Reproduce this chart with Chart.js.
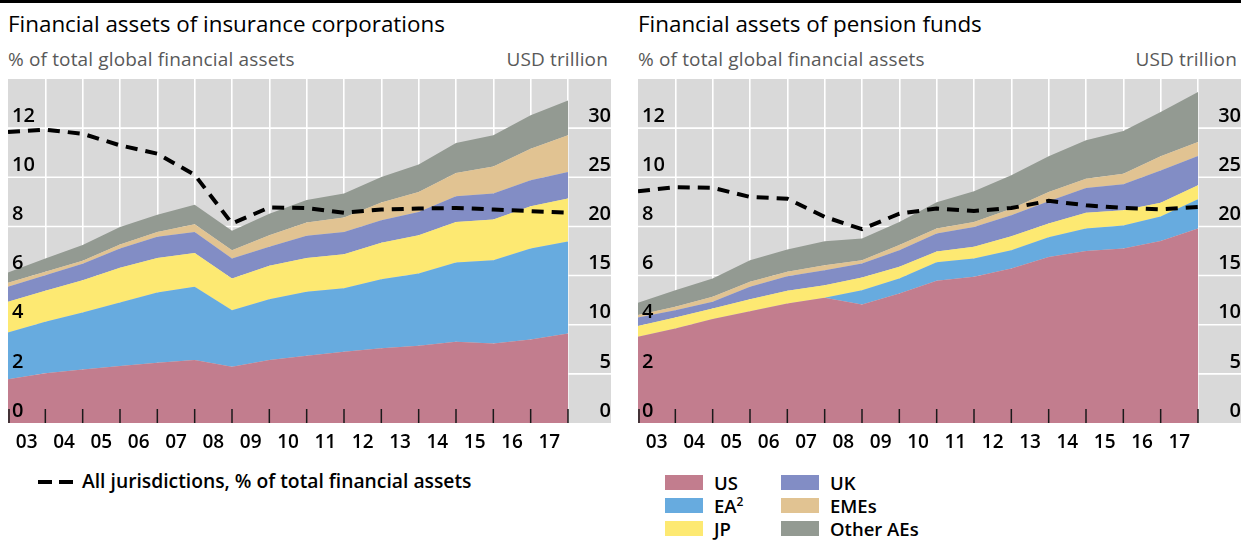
<!DOCTYPE html>
<html><head><meta charset="utf-8">
<script src="https://cdn.jsdelivr.net/npm/chart.js@4.4.1/dist/chart.umd.min.js"></script>
<style>
html,body{margin:0;padding:0;}
body{width:1241px;height:540px;background:#fff;position:relative;overflow:hidden;font-family:"Open Sans",sans-serif;}
.rule{position:absolute;top:0;height:3px;background:#000;left:0;width:1241px;}
.title{position:absolute;font-size:22.4px;color:#000;white-space:nowrap;line-height:1;}
.sub{position:absolute;font-size:19px;color:#595959;white-space:nowrap;line-height:1;letter-spacing:0.15px;}
canvas{position:absolute;top:79px;}
.leg{position:absolute;font-size:18.5px;font-weight:600;color:#000;white-space:nowrap;line-height:1;}
.sw{position:absolute;width:38px;height:15px;}
.dash{position:absolute;height:4px;width:14px;background:#000;}
</style></head>
<body>
<div class="rule"></div>
<div class="title" style="left:8px;top:13px;">Financial assets of insurance corporations</div>
<div class="sub" style="left:8px;top:50px;">% of total global financial assets</div>
<div class="sub" style="right:633px;top:50px;">USD trillion</div>
<div class="title" style="left:638px;top:13px;">Financial assets of pension funds</div>
<div class="sub" style="left:638px;top:50px;">% of total global financial assets</div>
<div class="sub" style="right:4px;top:50px;">USD trillion</div>
<canvas id="c1" width="603" height="384" style="left:8px;"></canvas>
<canvas id="c2" width="603" height="384" style="left:638px;"></canvas>

<div class="dash" style="left:38px;top:480px;"></div>
<div class="dash" style="left:59px;top:480px;"></div>
<div class="leg" style="left:82px;top:471px;font-size:19.3px;">All jurisdictions, % of total financial assets</div>

<div class="sw" style="left:665px;top:475px;background:#C27D8E;"></div>
<div class="leg" style="left:714px;top:474px;">US</div>
<div class="sw" style="left:665px;top:498px;background:#67ABDF;"></div>
<div class="leg" style="left:714px;top:497px;">EA<sup style="font-size:12px;vertical-align:7px;line-height:0;">2</sup></div>
<div class="sw" style="left:665px;top:521px;background:#FDE972;"></div>
<div class="leg" style="left:714px;top:520px;">JP</div>
<div class="sw" style="left:781px;top:475px;background:#828DC5;"></div>
<div class="leg" style="left:830px;top:474px;">UK</div>
<div class="sw" style="left:781px;top:498px;background:#E1C392;"></div>
<div class="leg" style="left:830px;top:497px;">EMEs</div>
<div class="sw" style="left:781px;top:521px;background:#939A92;"></div>
<div class="leg" style="left:830px;top:520px;">Other AEs</div>

<script>
// Category labels (years) and point positions (end-of-year observations 2002..2017)
const years = ['03','04','05','06','07','08','09','10','11','12','13','14','15','16','17'];
const pointIndex = [0,1,2,3,4,5,6,7,8,9,10,11,12,13,14,15];

// Insurance corporations, USD trillion (stacked components)
const insUS    = [4.44,5.05,5.45,5.80,6.13,6.40,5.72,6.40,6.85,7.25,7.60,7.86,8.27,8.10,8.50,9.10];
const insEA    = [4.76,5.25,5.80,6.46,7.15,7.46,5.76,6.20,6.50,6.45,7.03,7.34,8.06,8.46,9.25,9.36];
const insJP    = [3.13,3.15,3.28,3.53,3.52,3.44,3.22,3.40,3.45,3.47,3.70,3.90,4.13,4.14,4.30,4.37];
const insUK    = [1.53,1.59,1.67,1.96,2.14,2.14,2.03,1.92,2.25,2.27,2.30,2.38,2.61,2.64,2.65,2.71];
const insEME   = [0.40,0.34,0.30,0.41,0.50,0.78,0.85,1.18,1.35,1.46,1.80,2.02,2.37,2.76,3.20,3.73];
const insOther = [1.04,1.35,1.60,1.79,1.76,1.98,1.97,2.20,2.30,2.44,2.60,2.80,3.06,3.17,3.40,3.53];
// Insurance, all jurisdictions, % of total financial assets
const insShare = [11.84,11.94,11.77,11.30,10.96,10.10,8.12,8.77,8.75,8.56,8.69,8.73,8.75,8.69,8.62,8.56];

// Pension funds, USD trillion (stacked components)
const penUS    = [8.77,9.62,10.57,11.38,12.16,12.74,12.06,13.18,14.48,14.87,15.72,16.90,17.51,17.75,18.53,19.78];
const penEA    = [0,0,0,0,0,0,1.44,1.52,1.87,1.86,1.86,2.00,2.29,2.35,2.47,2.98];
const penJP    = [1.09,1.12,1.08,1.22,1.29,1.28,1.30,1.19,1.11,1.19,1.42,1.40,1.58,1.55,1.40,1.43];
const penUK    = [0.88,0.74,0.68,1.26,1.49,1.53,1.43,1.69,1.81,2.03,2.14,2.26,2.54,2.64,3.30,2.98];
const penEME   = [0.24,0.34,0.51,0.50,0.44,0.51,0.33,0.52,0.53,0.51,0.66,0.94,0.94,1.08,1.43,1.43];
const penOther = [1.25,1.68,1.86,2.20,2.27,2.44,2.21,2.36,2.65,3.12,3.40,3.63,3.90,4.33,4.51,5.07];
// Pension, all jurisdictions, % of total financial assets
const penShare = [9.43,9.60,9.57,9.20,9.13,8.39,7.89,8.52,8.73,8.63,8.75,9.04,8.86,8.75,8.70,8.79];

// Axis ticks
const leftTicks  = [0,2,4,6,8,10,12];
const rightTicks = [0,5,10,15,20,25,30];

const seriesNames = ['US','EA','JP','UK','EMEs','Other AEs'];
const seriesColors = ['#C27D8E','#67ABDF','#FDE972','#828DC5','#E1C392','#939A92'];

const panelPlugin = {
  id: 'panel',
  beforeDraw(chart) {
    const {ctx, chartArea: a} = chart;
    const yl = chart.scales.yl;
    ctx.save();
    ctx.fillStyle = '#D9D9D9';
    ctx.fillRect(a.left, a.top, chart.width - a.left, a.bottom - a.top);
    ctx.strokeStyle = '#FFFFFF';
    ctx.lineWidth = 1.6;
    leftTicks.forEach(v => {
      if (v <= yl.min || v >= yl.max) return;
      const y = yl.getPixelForValue(v);
      ctx.beginPath();
      ctx.moveTo(a.left, y);
      ctx.lineTo(chart.width, y);
      ctx.stroke();
    });
    ctx.restore();
  },
  afterDatasetsDraw(chart) {
    const {ctx, chartArea: a} = chart;
    const xs = chart.scales.x;
    ctx.save();
    ctx.strokeStyle = '#1a1a1a';
    ctx.lineWidth = 1.5;
    pointIndex.forEach(i => {
      let px = xs.getPixelForValue(i);
      px = Math.max(px, a.left + 1);
      ctx.beginPath();
      ctx.moveTo(px, a.bottom);
      ctx.lineTo(px, a.bottom - 14);
      ctx.stroke();
    });
    ctx.restore();
  }
};

function noPad(s) { s.paddingTop = 0; s.paddingBottom = 0; s.paddingLeft = 0; s.paddingRight = 0; }

function makeChart(id, comps, share) {
  const datasets = comps.map((arr, k) => ({
    type: 'line',
    label: seriesNames[k],
    data: arr.map((v, i) => ({x: pointIndex[i], y: v})),
    xAxisID: 'x', yAxisID: 'yr',
    backgroundColor: seriesColors[k],
    borderWidth: 0, pointRadius: 0, tension: 0,
    fill: k === 0 ? 'origin' : '-1',
    order: 1
  }));
  datasets.push({
    type: 'line',
    label: 'All jurisdictions, % of total financial assets',
    data: share.map((v, i) => ({x: pointIndex[i], y: v})),
    xAxisID: 'x', yAxisID: 'yl',
    borderColor: '#000', borderWidth: 4, borderDash: [12, 8],
    pointRadius: 0, tension: 0, fill: false, order: 0
  });
  const tickFont = {family: '"Open Sans", sans-serif', size: 20, weight: '600'};
  return new Chart(document.getElementById(id), {
    type: 'line',
    data: {labels: years, datasets},
    plugins: [panelPlugin],
    options: {
      responsive: false, animation: false, devicePixelRatio: 1,
      layout: {padding: 0},
      plugins: {legend: {display: false}, tooltip: {enabled: false}},
      scales: {
        x: {
          type: 'linear', position: 'bottom', min: 0, max: 15,
          ticks: {display: false, stepSize: 1},
          grid: {color: c => (c.tick && c.tick.value === 0) ? 'rgba(0,0,0,0)' : '#FFFFFF', lineWidth: 1.6, drawTicks: false},
          border: {display: false},
          afterFit(s) { s.height = 0; noPad(s); }
        },
        xl: {
          type: 'category', position: 'bottom', offset: true,
          grid: {display: false, drawTicks: false},
          border: {display: false},
          ticks: {color: '#000', padding: 8, maxRotation: 0, autoSkip: false,
                  font: {family: '"Open Sans", sans-serif', size: 19, weight: '600'}},
          afterFit(s) { s.height = 40; noPad(s); }
        },
        yl: {
          type: 'linear', position: 'left', min: 0, max: 14,
          afterBuildTicks(s) { s.ticks = leftTicks.map(v => ({value: v})); },
          ticks: {mirror: true, padding: 4, labelOffset: -12, z: 1, color: '#000', font: tickFont},
          grid: {display: false, drawTicks: false},
          border: {display: false},
          afterFit(s) { s.width = 0; noPad(s); }
        },
        yr: {
          type: 'linear', position: 'right', min: 0, max: 35, stacked: true,
          afterBuildTicks(s) { s.ticks = rightTicks.map(v => ({value: v})); },
          ticks: {padding: 17, crossAlign: 'far', labelOffset: -12, color: '#000', font: tickFont},
          grid: {display: false, drawTicks: false},
          border: {display: false},
          afterFit(s) { s.width = 43; noPad(s); }
        }
      }
    }
  });
}

makeChart('c1', [insUS, insEA, insJP, insUK, insEME, insOther], insShare);
makeChart('c2', [penUS, penEA, penJP, penUK, penEME, penOther], penShare);
</script>
</body></html>
